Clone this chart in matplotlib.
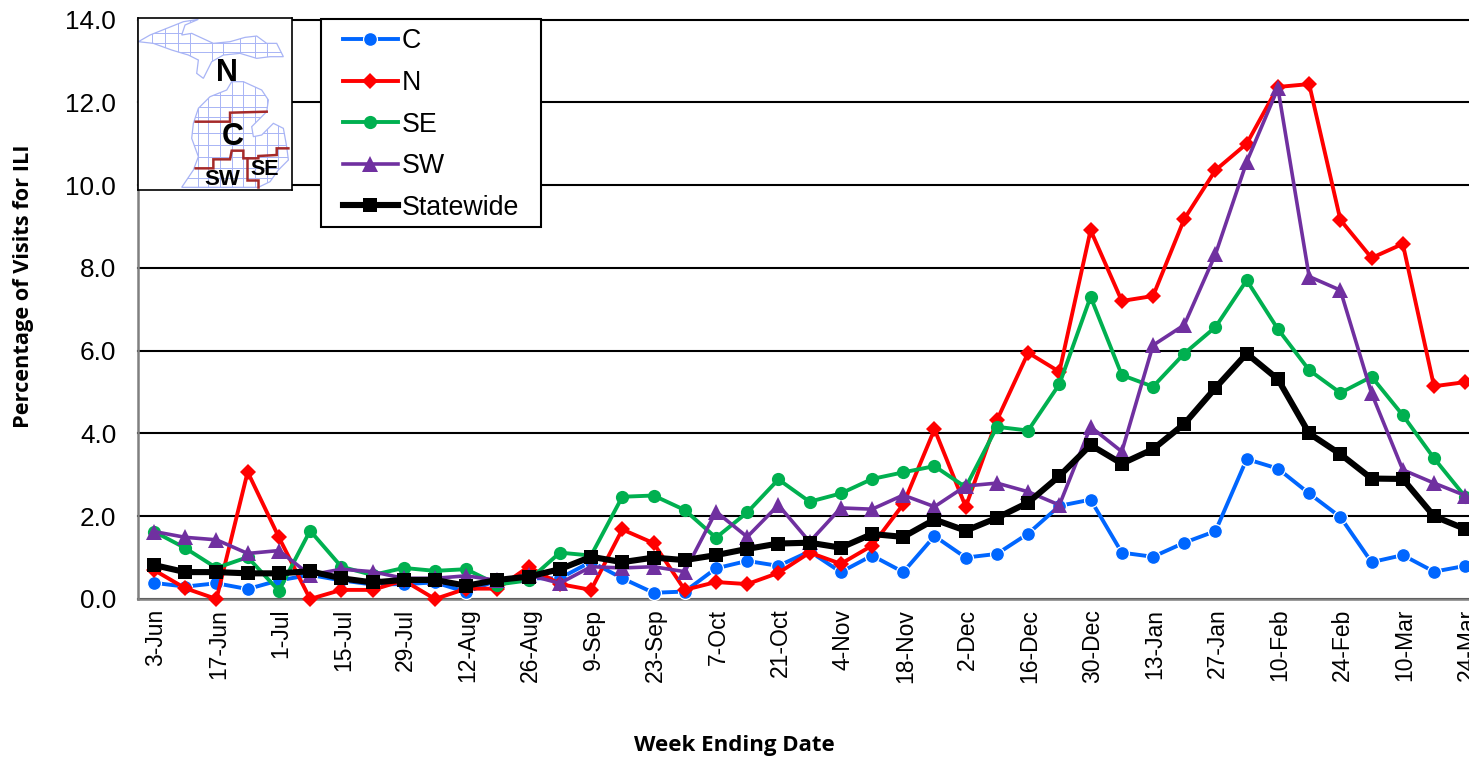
import matplotlib
matplotlib.use("Agg")
import matplotlib.pyplot as plt
from matplotlib.patches import Polygon, Rectangle
from matplotlib.transforms import ScaledTranslation

plt.rcParams['font.family'] = ['Liberation Sans', 'DejaVu Sans']

W, H = 1469, 757

tick_labels = ["3-Jun","17-Jun","1-Jul","15-Jul","29-Jul","12-Aug","26-Aug","9-Sep","23-Sep","7-Oct","21-Oct",
               "4-Nov","18-Nov","2-Dec","16-Dec","30-Dec","13-Jan","27-Jan","10-Feb","24-Feb","10-Mar","24-Mar"]

c_vals = [0.39,0.30,0.38,0.24,0.45,0.58,0.45,0.35,0.36,0.40,0.17,0.45,0.50,0.50,0.90,0.50,0.15,0.18,0.74,0.92,0.80,
          1.15,0.65,1.05,0.65,1.52,1.00,1.09,1.58,2.25,2.40,1.12,1.02,1.36,1.64,3.38,3.15,2.55,1.98,0.89,1.06,0.66,0.80]
n_vals = [0.70,0.26,0.00,3.07,1.49,0.00,0.22,0.22,0.45,0.00,0.25,0.25,0.78,0.36,0.22,1.68,1.35,0.22,0.41,0.36,0.63,
          1.12,0.85,1.29,2.29,4.10,2.23,4.32,5.95,5.49,8.91,7.20,7.32,9.18,10.36,11.00,12.37,12.44,9.16,8.24,8.58,5.14,5.24]
se_vals = [1.63,1.23,0.75,1.01,0.20,1.65,0.78,0.58,0.75,0.68,0.72,0.35,0.45,1.12,1.05,2.47,2.50,2.15,1.48,2.09,2.89,
           2.35,2.55,2.90,3.06,3.21,2.70,4.16,4.07,5.19,7.30,5.41,5.13,5.93,6.57,7.70,6.52,5.53,4.98,5.37,4.44,3.40,2.47]
sw_vals = [1.63,1.49,1.43,1.10,1.17,0.58,0.72,0.66,0.50,0.50,0.56,0.45,0.58,0.38,0.78,0.75,0.78,0.66,2.11,1.50,2.27,
           1.38,2.20,2.17,2.51,2.23,2.73,2.80,2.59,2.27,4.16,3.56,6.13,6.62,8.33,10.56,12.34,7.79,7.46,4.97,3.12,2.80,2.50]
state_vals = [0.82,0.65,0.65,0.62,0.62,0.67,0.50,0.40,0.46,0.46,0.32,0.46,0.54,0.72,1.02,0.89,1.00,0.94,1.06,1.21,1.34,
              1.36,1.24,1.57,1.50,1.92,1.65,1.96,2.33,2.97,3.72,3.27,3.62,4.23,5.10,5.93,5.31,4.00,3.50,2.91,2.90,2.00,1.69]

y_ticks = [0, 2, 4, 6, 8, 10, 12, 14]

# inset map outlines, in the map's own units
up_outline = [(25,125),(60,105),(110,85),(160,65),(205,58),(165,75),(155,105),(185,100),(250,130),(300,125),(345,112),
              (380,108),(410,130),(440,130),(460,170),(420,170),(380,175),(330,160),(280,165),(245,185),(220,235),
              (200,220),(205,180),(175,165),(125,150),(70,130)]
lp_outline = [(290,270),(305,245),(340,245),(395,270),(415,300),(410,335),(365,380),(370,410),(395,405),(430,370),
              (460,385),(470,440),(475,480),(445,510),(420,545),(385,562),(155,562),(190,510),(205,470),(185,415),
              (190,370),(205,325),(240,290),(265,280)]
border_north = [(197,365),(300,365),(300,338),(410,335)]
border_south = [(197,505),(250,505),(250,478),(300,478),(305,452),(340,452),(340,475),(385,475),(385,468),(440,465),
                (440,445),(475,445)]
border_se = [(350,475),(350,540),(385,540),(385,562)]
lp_grid_x = [205,235,270,305,340,375,410,445]
lp_grid_y = [285,320,350,400,435,470,505,535]
up_grid_x = [65,105,145,180,245,280,330,375,410]
up_grid_y = [100,130,155]

fig = plt.figure(figsize=(W/100, H/100), dpi=100)
left, right, bottom, top = 138.4, W, 599.0, 19.5
ax = fig.add_axes([left/W, 1-bottom/H, (right-left)/W, (bottom-top)/H])

step = 31.22
xs = list(range(len(state_vals)))
ax.set_xlim(-(154-left)/step, (W-154)/step)
ax.set_ylim(0, 14)

series = [
    ("C", c_vals, "#0066FF", "o", 10, 2.8, "white", 0.9),
    ("N", n_vals, "#FF0000", "D", 8, 2.8, "#FF0000", 0),
    ("SE", se_vals, "#00B050", "o", 9.5, 2.8, "#00B050", 0),
    ("SW", sw_vals, "#7030A0", "^", 11, 2.6, "#7030A0", 0),
    ("Statewide", state_vals, "#000000", "s", 10.5, 4.4, "#000000", 0),
]
for i, (name, vals, col, mk, ms, lw, mec, mew) in enumerate(series):
    ax.plot(xs, vals, color=col, marker=mk, ms=ms, lw=lw, mec=mec, mew=mew, mfc=col,
            label=name, zorder=3+i, clip_on=False, solid_joinstyle='miter')

ax.set_yticks(y_ticks)
ax.set_yticklabels([f"{v:.1f}" for v in y_ticks], fontsize=18.8)
ax.set_xticks(xs[::2])
ax.set_xticklabels(tick_labels, rotation=90, fontsize=16.5)
ax.tick_params(axis='y', length=0, pad=16)
ax.tick_params(axis='x', length=0, pad=7)
shift = ScaledTranslation(0.02, 0, fig.dpi_scale_trans)
for lab in ax.get_xticklabels():
    lab.set_transform(lab.get_transform() + shift)
ax.yaxis.grid(True, color='black', lw=1.5, zorder=1)
for gl in ax.get_ygridlines():
    gl.set_clip_on(False)
ax.set_axisbelow(True)
for s in ('top', 'right'):
    ax.spines[s].set_visible(False)
for s in ('left', 'bottom'):
    ax.spines[s].set_color('#808080')
    ax.spines[s].set_linewidth(1.8)

# legend frame, then the legend itself without a frame
ax.add_patch(Rectangle((321/W, 1-227/H), 220/W, 208/H, transform=fig.transFigure, fc='white', ec='black',
                       lw=1.5, clip_on=False, zorder=15))
leg = ax.legend(loc='upper left', bbox_to_anchor=((343-left)/(W-left), 1-(28.5-top)/(bottom-top)), borderaxespad=0,
                fontsize=19.3, frameon=False, handlelength=2.05, handletextpad=0.15, labelspacing=0.58, borderpad=0)
leg.set_zorder(20)

fig.text(734/W, 1-745.5/H, "Week Ending Date", family='Open Sans', weight='bold', fontsize=16, ha='center', va='center')
fig.text(24/W, 1-286/H, "Percentage of Visits for ILI", family='Open Sans', weight='bold', fontsize=15.7,
         rotation=90, ha='center', va='center')

# inset map
m = fig.add_axes([137.7/W, 1-190/H, 154/W, 172.3/H], zorder=10)
m.set_xlim(23, 485)
m.set_ylim(570, 53)
m.set_xticks([]); m.set_yticks([])
for s in m.spines.values():
    s.set_color('black'); s.set_linewidth(1.2)
blue = '#A8B4F5'
for outline, gx, gy in ((up_outline, up_grid_x, up_grid_y), (lp_outline, lp_grid_x, lp_grid_y)):
    poly = Polygon(outline, closed=True, fc='white', ec=blue, lw=0.9)
    m.add_patch(poly)
    for x in gx:
        ln, = m.plot([x, x], [53, 570], color=blue, lw=0.7)
        ln.set_clip_path(poly)
    for y in gy:
        ln, = m.plot([23, 485], [y, y], color=blue, lw=0.7)
        ln.set_clip_path(poly)
for b in (border_north, border_south, border_se):
    m.plot(*zip(*b), color='#A52A2A', lw=1.8, solid_joinstyle='miter')
m.text(291, 218, "N", fontsize=22, weight='bold', ha='center', va='center')
m.text(308, 410, "C", fontsize=22, weight='bold', ha='center', va='center')
m.text(278, 537, "SW", fontsize=16, weight='bold', ha='center', va='center')
m.text(405, 507, "SE", fontsize=15.5, weight='bold', ha='center', va='center')

fig.savefig("out.png", dpi=100)
